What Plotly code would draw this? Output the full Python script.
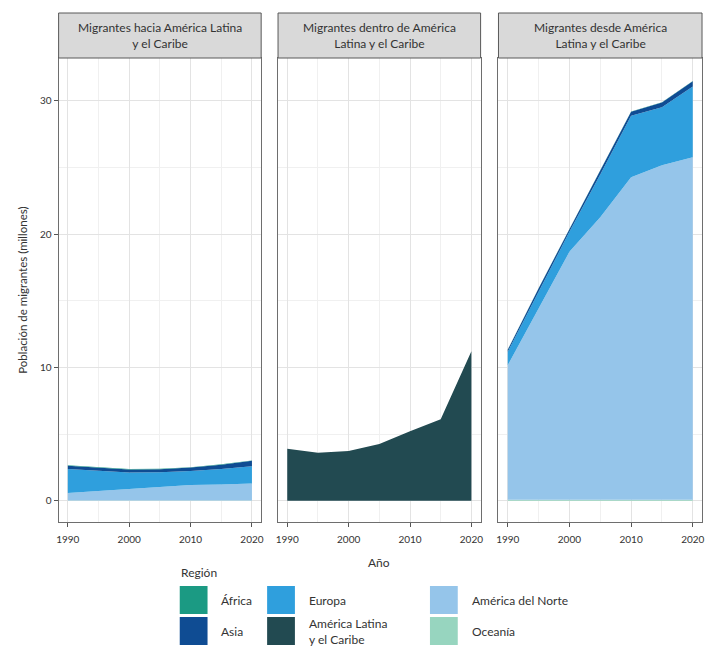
import plotly.graph_objects as go

# ---- data (millions of migrants) ----
years = [1990, 1995, 2000, 2005, 2010, 2015, 2020]

regions = ["Oceanía", "América del Norte", "América Latina\ny el Caribe", "Europa", "Asia", "África"]

# Migrants towards Latin America and the Caribbean
hacia_oceania = [0.02, 0.02, 0.02, 0.02, 0.02, 0.02, 0.02]
hacia_norte = [0.55, 0.70, 0.85, 1.00, 1.15, 1.20, 1.27]
hacia_alc = [0, 0, 0, 0, 0, 0, 0]
hacia_europa = [1.80, 1.50, 1.25, 1.12, 1.05, 1.15, 1.30]
hacia_asia = [0.25, 0.25, 0.22, 0.22, 0.26, 0.33, 0.40]
hacia_africa = [0.03, 0.03, 0.03, 0.03, 0.03, 0.03, 0.03]

# Migrants within Latin America and the Caribbean
dentro_alc = [3.90, 3.60, 3.73, 4.25, 5.20, 6.10, 11.20]

# Migrants from Latin America and the Caribbean
desde_oceania = [0.06, 0.06, 0.06, 0.06, 0.06, 0.06, 0.06]
desde_norte = [10.10, 14.40, 18.60, 21.20, 24.20, 25.10, 25.70]
desde_alc = [0, 0, 0, 0, 0, 0, 0]
desde_europa = [1.00, 1.25, 1.50, 3.20, 4.60, 4.35, 5.30]
desde_asia = [0.15, 0.20, 0.20, 0.25, 0.30, 0.35, 0.40]
desde_africa = [0.02, 0.02, 0.02, 0.02, 0.02, 0.02, 0.02]

panel_titles = [
    "Migrantes hacia América Latina<br>y el Caribe",
    "Migrantes dentro de América<br>Latina y el Caribe",
    "Migrantes desde América<br>Latina y el Caribe",
]

colors = {
    "África": "#1b9a83",
    "Asia": "#0f4c93",
    "Europa": "#2f9fdd",
    "América Latina\ny el Caribe": "#224a51",
    "América del Norte": "#95c5ea",
    "Oceanía": "#97d5bf",
}

legend_cols = [["África", "Asia"], ["Europa", "América Latina\ny el Caribe"], ["América del Norte", "Oceanía"]]

# ---- page geometry (pixels) ----
W, H = 708, 646
FONT = "Lato"
TXT = "#333333"


def px(x):
    return x / W


def py(y):
    return 1 - y / H


panels_x = [(57, 261), (278, 482), (500, 705)]
panel_top, panel_bottom = 58, 522
strip_top = 13

fig = go.Figure()

panel_series = [
    [hacia_oceania, hacia_norte, hacia_alc, hacia_europa, hacia_asia, hacia_africa],
    [None, None, dentro_alc, None, None, None],
    [desde_oceania, desde_norte, desde_alc, desde_europa, desde_asia, desde_africa],
]

for i, series in enumerate(panel_series):
    xa = "x" if i == 0 else f"x{i + 1}"
    ya = "y" if i == 0 else f"y{i + 1}"
    for name, vals in zip(regions, series):
        if vals is None:
            continue
        fig.add_trace(go.Scatter(
            x=years, y=vals, xaxis=xa, yaxis=ya,
            mode="lines", stackgroup=f"g{i}",
            line=dict(width=0, color=colors[name]),
            fillcolor=colors[name],
            name=name.replace("\n", " "), showlegend=False,
            hoverinfo="x+y+name",
        ))

axis_common = dict(
    showline=True, linecolor="#6e6e6e", linewidth=1, mirror=True,
    gridcolor="#e3e3e3", gridwidth=1, zeroline=False,
    ticks="outside", ticklen=4, tickcolor="#555555",
    tickfont=dict(family=FONT, size=10, color=TXT),
)

for i, (x0, x1) in enumerate(panels_x):
    sx = "" if i == 0 else str(i + 1)
    fig.update_layout(**{
        f"xaxis{sx}": dict(
            axis_common,
            domain=[px(x0), px(x1)], anchor=f"y{sx}",
            range=[1988.5, 2021.5],
            tickvals=[1990, 2000, 2010, 2020],
            ticklabelstandoff=4,
            minor=dict(tickvals=[1995, 2005, 2015], showgrid=True, gridcolor="#f0f0f0", ticks=""),
        ),
        f"yaxis{sx}": dict(
            axis_common,
            domain=[py(panel_bottom), py(panel_top)], anchor=f"x{sx}",
            range=[-1.6, 33.2],
            tickvals=[0, 10, 20, 30],
            showticklabels=(i == 0),
            ticks="outside" if i == 0 else "",
            minor=dict(tickvals=[5, 15, 25], showgrid=True, gridcolor="#f0f0f0", ticks=""),
        ),
    })

shapes = []
annotations = []

# facet strips
for (x0, x1), title in zip(panels_x, panel_titles):
    shapes.append(dict(
        type="rect", xref="paper", yref="paper",
        x0=px(x0), x1=px(x1), y0=py(panel_top), y1=py(strip_top),
        fillcolor="#d9d9d9", line=dict(color="#595959", width=1), layer="above",
    ))
    annotations.append(dict(
        xref="paper", yref="paper", x=px((x0 + x1) / 2), y=py((strip_top + panel_top) / 2),
        text=title, showarrow=False, xanchor="center", yanchor="middle",
        font=dict(family=FONT, size=12, color=TXT), align="center",
    ))

# axis titles
annotations.append(dict(
    xref="paper", yref="paper", x=px(20), y=py((panel_top + panel_bottom) / 2),
    text="Población de migrantes (millones)", textangle=-90, showarrow=False,
    xanchor="center", yanchor="middle", font=dict(family=FONT, size=11.5, color=TXT),
))
annotations.append(dict(
    xref="paper", yref="paper", x=px(380), y=py(562),
    text="Año", showarrow=False, xanchor="center", yanchor="middle",
    font=dict(family=FONT, size=12, color=TXT),
))

# legend
annotations.append(dict(
    xref="paper", yref="paper", x=px(178), y=py(572),
    text="Región", showarrow=False, xanchor="left", yanchor="middle",
    font=dict(family=FONT, size=12, color=TXT),
))
key_x = [179, 267, 431]
key_y = [586, 617]
key_size = 28
for cx, col in zip(key_x, legend_cols):
    for ky, name in zip(key_y, col):
        shapes.append(dict(
            type="rect", xref="paper", yref="paper",
            x0=px(cx), x1=px(cx + key_size), y0=py(ky + key_size), y1=py(ky),
            fillcolor=colors[name], line=dict(width=0),
        ))
        annotations.append(dict(
            xref="paper", yref="paper", x=px(cx + key_size + 12), y=py(ky + key_size / 2),
            text=name.replace("\n", "<br>"), showarrow=False, xanchor="left", yanchor="middle",
            align="left", font=dict(family=FONT, size=12, color=TXT),
        ))

fig.update_layout(
    width=W, height=H,
    margin=dict(l=0, r=0, t=0, b=0),
    paper_bgcolor="white", plot_bgcolor="white",
    shapes=shapes, annotations=annotations,
    showlegend=False,
    font=dict(family=FONT, color=TXT),
)

fig.write_html("out.html")
